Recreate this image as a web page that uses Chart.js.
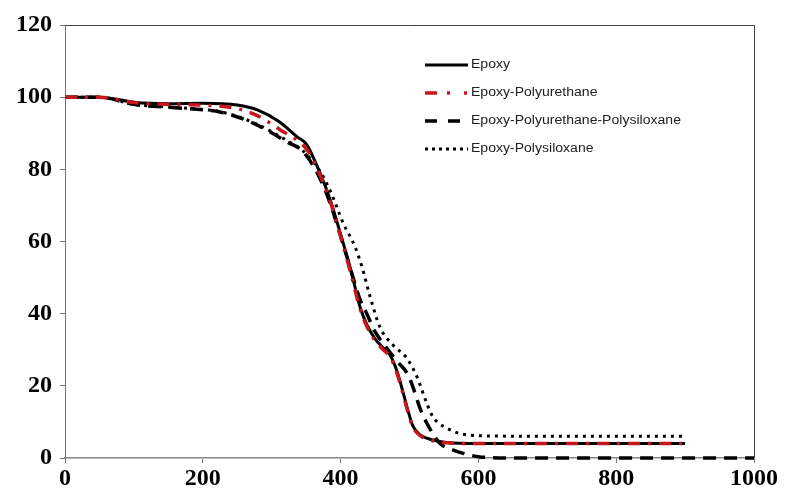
<!DOCTYPE html>
<html>
<head>
<meta charset="utf-8">
<script src="https://cdn.jsdelivr.net/npm/chart.js@4.4.1/dist/chart.umd.min.js"></script>
<style>
  html, body { margin: 0; padding: 0; background: #fff; }
  #wrap { width: 785px; height: 492px; position: relative; }
</style>
</head>
<body>
<div id="wrap"><canvas id="tgaChart"></canvas></div>
<script>
// temperature (x) and weight % (y)
const epoxyT = [0, 50, 100, 150, 200, 250, 280, 310, 337, 351, 370, 385, 400, 415, 428, 438, 450, 462, 472, 481, 491, 498, 505, 515, 530, 554, 600, 700, 800, 900];
const epoxyW = [100, 100, 98.6, 98.2, 98.3, 97.8, 96.4, 93.3, 89, 86.8, 79, 71.5, 62, 52, 42, 37, 33, 30.5, 28.5, 24.5, 18, 13, 8.8, 6.5, 5.2, 4.3, 4.0, 4.0, 4.0, 4.0];

const epuT = [0, 50, 100, 150, 200, 250, 280, 312, 337, 351, 370, 385, 400, 415, 428, 438, 450, 462, 472, 481, 491, 498, 505, 515, 530, 554, 600, 700, 800, 900];
const epuW = [100, 100, 98.5, 98, 97.8, 96.8, 94.8, 91, 88, 85.5, 78.5, 71, 61.5, 51, 41.5, 36.5, 32.5, 30, 28, 24, 17.5, 12.5, 8.5, 6.3, 5.0, 4.2, 4.0, 4.0, 4.0, 4.0];

const epupsT = [0, 50, 100, 150, 200, 225, 273, 322, 346, 370, 385, 400, 415, 428, 438, 450, 465, 481, 498, 508, 515, 525, 544, 560, 578, 602, 650, 800, 1000];
const epupsW = [100, 100, 98, 97.2, 96.5, 95.9, 92.8, 87.6, 84.8, 77.5, 70.5, 61.5, 52, 44, 40, 35, 31, 27, 23, 18, 13.9, 9.7, 4.1, 2.5, 1.3, 0.3, 0, 0, 0];

const epsT = [0, 50, 100, 150, 200, 225, 273, 322, 346, 370, 385, 404, 421, 431, 443, 457, 476, 496, 511, 525, 534, 554, 583, 620, 750, 900];
const epsW = [100, 100, 98, 97.3, 96.6, 96, 93, 88, 85, 79.5, 74, 65, 58.5, 53, 44.6, 36.3, 31.3, 27.7, 22.4, 15.2, 11.4, 8.3, 6.4, 6.1, 6.0, 6.0];

const xTicks = [0, 200, 400, 600, 800, 1000];
const yTicks = [0, 20, 40, 60, 80, 100, 120];

const toPts = (xs, ys) => xs.map((x, i) => ({ x: x, y: ys[i] }));

const series = [
    { label: 'Epoxy', data: toPts(epoxyT, epoxyW), color: '#000', width: 3, dash: [], legendDash: [], order: 2 },
    { label: 'Epoxy-Polyurethane', data: toPts(epuT, epuW), color: '#c8161d', width: 3.5, dash: [12, 8, 3, 8], legendDash: [12, 10, 3, 14, 3, 40], order: 1 },
    { label: 'Epoxy-Polyurethane-Polysiloxane', data: toPts(epupsT, epupsW), color: '#000', width: 3.5, dash: [13, 8], legendDash: [12, 11], order: 3 },
    { label: 'Epoxy-Polysiloxane', data: toPts(epsT, epsW), color: '#000', width: 3, dash: [3, 5], legendDash: [3, 4], order: 4 }
];

// box round the plot area
const framePlugin = {
    id: 'frame',
    afterDatasetsDraw(chart) {
        const a = chart.chartArea, ctx = chart.ctx;
        ctx.save();
        ctx.strokeStyle = '#444';
        ctx.lineWidth = 1;
        ctx.beginPath();
        ctx.moveTo(a.left, a.top + 0.5);
        ctx.lineTo(a.right + 0.5, a.top + 0.5);
        ctx.lineTo(a.right + 0.5, a.bottom);
        ctx.stroke();
        ctx.restore();
    }
};

// legend drawn inside the plot, line samples + text
const legendPlugin = {
    id: 'innerLegend',
    afterDraw(chart) {
        const ctx = chart.ctx;
        const x0 = 425, x1 = 468, rowY = [65, 93, 121, 149];
        chart.data.datasets.forEach((ds, i) => {
            const y = rowY[i];
            ctx.save();
            ctx.strokeStyle = ds.borderColor;
            ctx.lineWidth = ds.borderWidth;
            ctx.setLineDash(ds.legendDash);
            ctx.beginPath();
            ctx.moveTo(x0, y);
            ctx.lineTo(x1, y);
            ctx.stroke();
            ctx.restore();

            ctx.save();
            ctx.translate(x1 + 3, y);
            ctx.scale(1.17, 1);
            ctx.fillStyle = '#222';
            ctx.font = '12px "Liberation Sans", Arial, sans-serif';
            ctx.textBaseline = 'middle';
            ctx.fillText(ds.label, 0, 0);
            ctx.restore();
        });
    }
};

const tickFont = { family: '"Liberation Serif", "Times New Roman", serif', size: 24, weight: 'bold' };

new Chart(document.getElementById('tgaChart'), {
    type: 'line',
    data: {
        datasets: series.map(s => ({
            label: s.label,
            data: s.data,
            borderColor: s.color,
            backgroundColor: s.color,
            borderWidth: s.width,
            borderDash: s.dash,
            legendDash: s.legendDash,
            order: s.order,
            pointRadius: 0,
            fill: false,
            clip: false,
            cubicInterpolationMode: 'monotone'
        }))
    },
    options: {
        responsive: true,
        maintainAspectRatio: false,
        animation: false,
        layout: { padding: { left: 0, top: 25, right: 31, bottom: 0 } },
        plugins: {
            legend: { display: false },
            tooltip: { enabled: false }
        },
        scales: {
            x: {
                type: 'linear',
                min: 0, max: 1000,
                afterBuildTicks: s => { s.ticks = xTicks.map(v => ({ value: v })); },
                afterFit: s => { s.height = 34; },
                grid: { drawOnChartArea: false, drawTicks: true, tickLength: 5, color: '#777' },
                border: { color: '#888', width: 1.5 },
                ticks: { color: '#000', font: tickFont, padding: 1, maxRotation: 0, callback: v => String(v) }
            },
            y: {
                min: 0, max: 120,
                afterBuildTicks: s => { s.ticks = yTicks.map(v => ({ value: v })); },
                afterFit: s => { s.width = 65; },
                grid: { drawOnChartArea: false, drawTicks: true, tickLength: 5, color: '#777' },
                border: { color: '#777', width: 1 },
                ticks: { color: '#000', font: tickFont, padding: 8, callback: v => String(v) }
            }
        }
    },
    plugins: [framePlugin, legendPlugin]
});
</script>
</body>
</html>
